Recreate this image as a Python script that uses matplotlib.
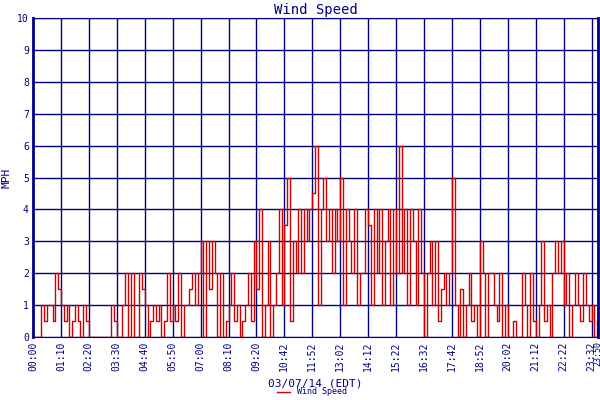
import matplotlib
matplotlib.use("Agg")
import matplotlib.pyplot as plt
import numpy as np

tick_labels = ["00:00","01:10","02:20","03:30","04:40","05:50","07:00","08:10","09:20","10:42",
               "11:52","13:02","14:12","15:22","16:32","17:42","18:52","20:02","21:12","22:22","23:32","23:50"]
speed = [
 0,0,0,1,0.5,1,1,0.5,2,1.5,
 1,0.5,1,0,0.5,1,0.5,0,1,0.5,
 0,0,0,0,0,0,0,0,1,0.5,
 0,0,1,2,0,2,0,0,2,1.5,
 1,0,0.5,1,0.5,1,0,0.5,2,0.5,
 1,0.5,2,0,1,1,1.5,2,1,2,
 3,0,3,1.5,3,2,0,2,0,0.5,
 1,2,0.5,1,0,0.5,1,2,0.5,3,
 1.5,4,0,1,3,0,1,2,4,1,
 3.5,5,0.5,3,2,4,2,4,3,4,
 4.5,6,1,4,5,3,4,2,4,3,
 5,1,4,3,2,4,1,2,2,4,
 3.5,1,4,2,4,1,3,4,1,4,
 2,6,2,4,1,4,3,1,4,2,
 0,2,3,1,3,0.5,1.5,2,1,2,
 5,1,0,1.5,0,1,2,0.5,1,0,
 3,2,0,2,2,1,0.5,2,0,1,
 0,0,0.5,0,0,2,1,0,2,0.5,
 0,1,3,0.5,1,0,2,3,2,3,
 1,2,0,1,2,1,0.5,2,1,0.5,
 1,0,0.5,
]
per = 10
navy = "#000080"
mono = "DejaVu Sans Mono"

fig = plt.figure(figsize=(6, 4), dpi=100)
ax = fig.add_axes([33/600, 63/400, 565/600, 319/400])
x = np.arange(len(speed))
ax.step(x, speed, where="post", color="#cc0000", lw=1, label="Wind Speed")
ax.set_xlim(0, len(speed) - 1 + 0.3)
ax.set_ylim(0, 10)
tpos = [i * per for i in range(len(tick_labels) - 1)] + [len(speed) - 1 + 0.3]
ax.set_xticks(tpos)
ax.set_xticklabels(tick_labels, rotation=90, fontsize=7, family=mono, color=navy)
ax.get_xticklabels()[-1].set_fontsize(6)
ax.set_yticks(range(11))
ax.set_yticklabels([str(i) for i in range(11)], fontsize=7, family=mono, color=navy)
ax.grid(True, color=navy, lw=1)
ax.tick_params(length=0, pad=3)
for s in ax.spines.values():
    s.set_color(navy)
ax.spines["left"].set_linewidth(2)
ax.spines["right"].set_linewidth(2)
ax.set_title("Wind Speed", family=mono, color=navy, fontsize=10, pad=3)
ax.set_ylabel("MPH", family=mono, color=navy, fontsize=8)
ax.set_xlabel("03/07/14 (EDT)", family=mono, color=navy, fontsize=8, labelpad=6)
leg = fig.legend(loc="lower center", bbox_to_anchor=(0.52, -0.01), frameon=False,
                 prop={"family": mono, "size": 6}, handlelength=1.5)
for t in leg.get_texts():
    t.set_color(navy)
fig.savefig("out.png", dpi=100)
